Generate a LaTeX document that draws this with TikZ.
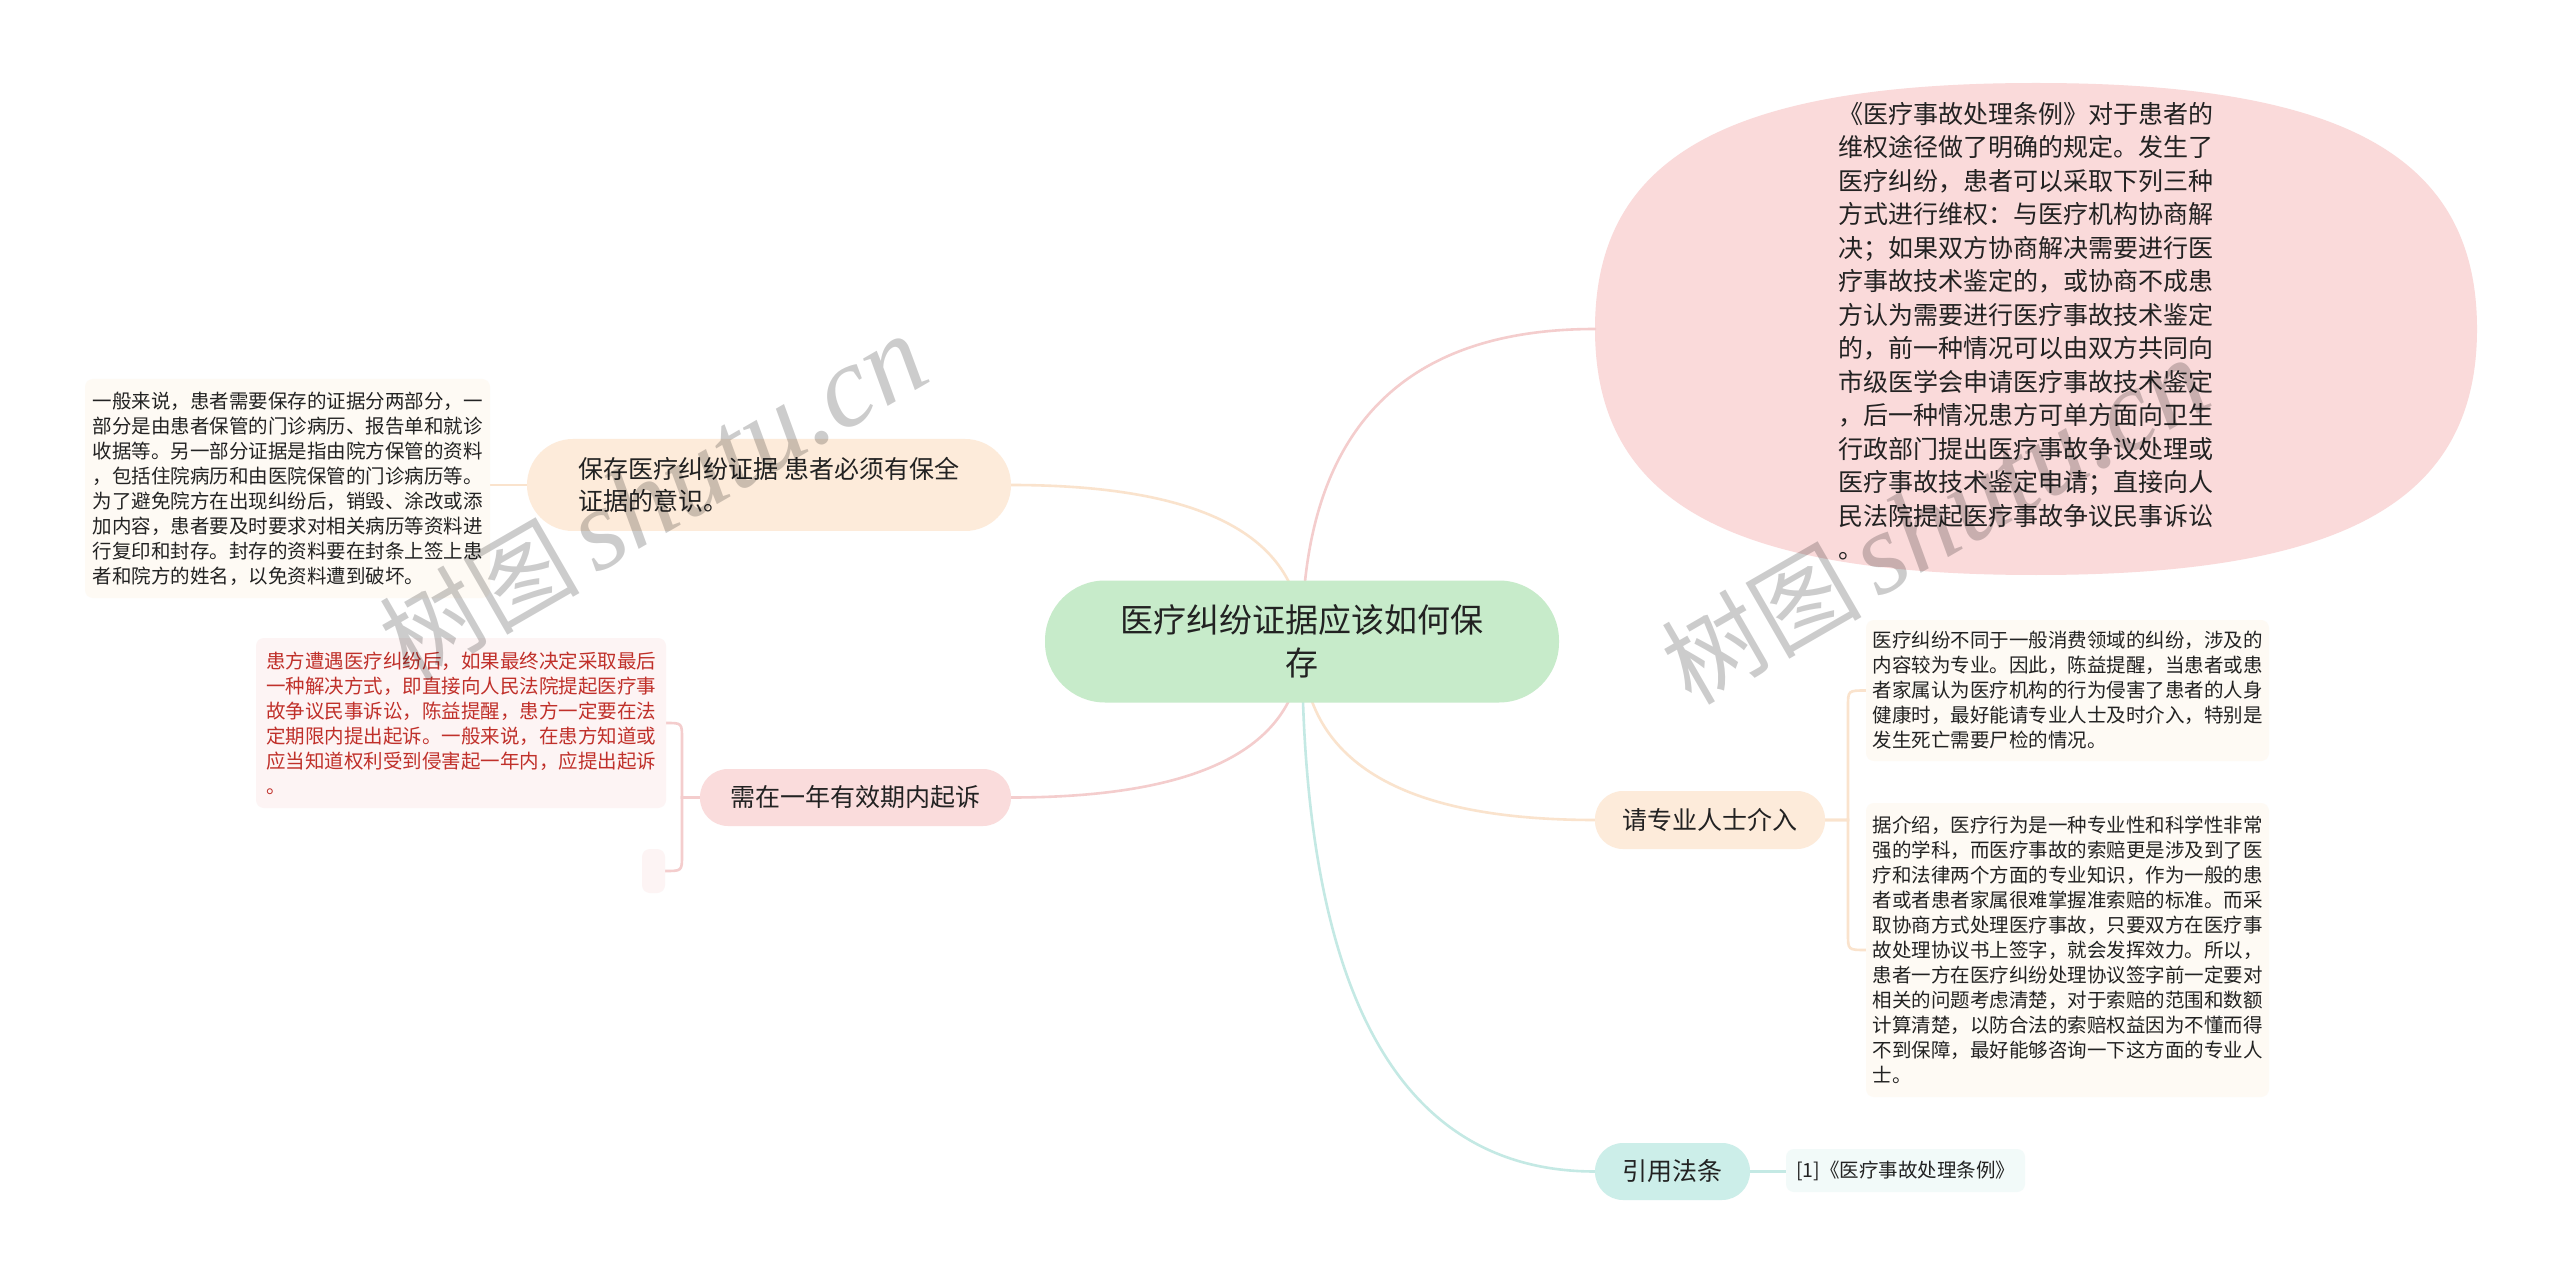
\documentclass[tikz,border=0pt]{standalone}
\usepackage{fontspec}
\setmainfont{Noto Sans CJK SC}
\newfontfamily\wmserif{Liberation Serif}
\usetikzlibrary{calc,backgrounds}
\definecolor{rootfill}{HTML}{C7EBCA}
\definecolor{lawfill}{HTML}{FADADA}
\definecolor{peachfill}{HTML}{FDEBDA}
\definecolor{pinkfill}{HTML}{FADCDC}
\definecolor{tealfill}{HTML}{CCEEE9}
\definecolor{creamleaf}{HTML}{FEFAF4}
\definecolor{pinkleaf}{HTML}{FDF4F4}
\definecolor{tealleaf}{HTML}{F2FAF9}
\definecolor{pinkline}{HTML}{F4CDCD}
\definecolor{peachline}{HTML}{FAE3CD}
\definecolor{tealline}{HTML}{C4E9E4}
\definecolor{redtext}{HTML}{C0302A}
\definecolor{darktext}{HTML}{222222}
\tikzset{
  base/.style={inner sep=0pt, outer sep=0pt, align=left, text=darktext},
  rootbox/.style={base, align=center, fill=rootfill, rounded corners=30pt,
    minimum width=257pt, minimum height=61pt, font=\fontsize{16.5}{21.5}\selectfont},
  branchbox/.style={base, rounded corners=14pt, minimum height=28.5pt,
    font=\fontsize{12.5}{16}\selectfont},
  leafbox/.style={base, rounded corners=4pt, font=\fontsize{9.75}{12.5}\selectfont},
  link/.style={line width=1.3pt, line cap=round},
  wmark/.style={text=black, opacity=0.2, rotate=30, inner sep=0pt},
}
\begin{document}
\begin{tikzpicture}[x=0.5pt, y=-0.5pt]
\useasboundingbox (0,0) rectangle (2560,1283);

% nodes
\node[rootbox] (root) at (1302,641.5) {医疗纠纷证据应该如何保\\存};
\node[base, minimum width=441pt, minimum height=246pt] (law) at (2036,329) {};
\node[base, font=\fontsize{12.5}{16.75}\selectfont] (lawtext) at (2026,331)
  {《医疗事故处理条例》对于患者的\\
   维权途径做了明确的规定。发生了\\
   医疗纠纷，患者可以采取下列三种\\
   方式进行维权：与医疗机构协商解\\
   决；如果双方协商解决需要进行医\\
   疗事故技术鉴定的，或协商不成患\\
   方认为需要进行医疗事故技术鉴定\\
   的，前一种情况可以由双方共同向\\
   市级医学会申请医疗事故技术鉴定\\
   ，后一种情况患方可单方面向卫生\\
   行政部门提出医疗事故争议处理或\\
   医疗事故技术鉴定申请；直接向人\\
   民法院提起医疗事故争议民事诉讼\\
   。};
\node[branchbox, fill=peachfill, rounded corners=23pt, minimum width=242pt, minimum height=46pt] (save) at (769,485)
  {保存医疗纠纷证据 患者必须有保全\\证据的意识。};
\node[branchbox, fill=pinkfill, minimum width=155.5pt] (sue) at (855.5,797.5) {需在一年有效期内起诉};
\node[branchbox, fill=peachfill, minimum width=115pt, minimum height=29pt] (pro) at (1710,820) {请专业人士介入};
\node[branchbox, fill=tealfill, minimum width=77.5pt] (ref) at (1672.5,1171.5) {引用法条};

\node[leafbox, fill=creamleaf, minimum width=202.5pt, minimum height=109.5pt] (leaf1) at (287.5,488.5)
  {一般来说，患者需要保存的证据分两部分，一\\
   部分是由患者保管的门诊病历、报告单和就诊\\
   收据等。另一部分证据是指由院方保管的资料\\
   ，包括住院病历和由医院保管的门诊病历等。\\
   为了避免院方在出现纠纷后，销毁、涂改或添\\
   加内容，患者要及时要求对相关病历等资料进\\
   行复印和封存。封存的资料要在封条上签上患\\
   者和院方的姓名，以免资料遭到破坏。};
\node[leafbox, fill=pinkleaf, text=redtext, minimum width=205pt, minimum height=85pt] (red) at (461,723)
  {患方遭遇医疗纠纷后，如果最终决定采取最后\\
   一种解决方式，即直接向人民法院提起医疗事\\
   故争议民事诉讼，陈益提醒，患方一定要在法\\
   定期限内提出起诉。一般来说，在患方知道或\\
   应当知道权利受到侵害起一年内，应提出起诉\\
   。};
\node[leafbox, fill=pinkleaf, minimum width=11.5pt, minimum height=22pt] (small) at (653.5,871) {};
\node[leafbox, fill=creamleaf, minimum width=201.5pt, minimum height=70.5pt] (r1) at (2067.5,690.5)
  {医疗纠纷不同于一般消费领域的纠纷，涉及的\\
   内容较为专业。因此，陈益提醒，当患者或患\\
   者家属认为医疗机构的行为侵害了患者的人身\\
   健康时，最好能请专业人士及时介入，特别是\\
   发生死亡需要尸检的情况。};
\node[leafbox, fill=creamleaf, minimum width=201.5pt, minimum height=147pt] (r2) at (2067.5,950)
  {据介绍，医疗行为是一种专业性和科学性非常\\
   强的学科，而医疗事故的索赔更是涉及到了医\\
   疗和法律两个方面的专业知识，作为一般的患\\
   者或者患者家属很难掌握准索赔的标准。而采\\
   取协商方式处理医疗事故，只要双方在医疗事\\
   故处理协议书上签字，就会发挥效力。所以，\\
   患者一方在医疗纠纷处理协议签字前一定要对\\
   相关的问题考虑清楚，对于索赔的范围和数额\\
   计算清楚，以防合法的索赔权益因为不懂而得\\
   不到保障，最好能够咨询一下这方面的专业人\\
   士。};
\node[leafbox, fill=tealleaf, minimum width=119.5pt, minimum height=21.5pt] (refleaf) at (1905.5,1170.5)
  {[1]《医疗事故处理条例》};

\begin{pgfonlayer}{background}
  \fill[white] (0,0) rectangle (2560,1283);
  % law node shape (rounded, between an ellipse and a rectangle)
  \fill[lawfill] (1595,329) .. controls (1595,156.8) and (1727.3,83) .. (2036,83)
    .. controls (2344.7,83) and (2477,156.8) .. (2477,329)
    .. controls (2477,501.2) and (2344.7,575) .. (2036,575)
    .. controls (1727.3,575) and (1595,501.2) .. (1595,329) -- cycle;
  % control corners for root links
  \coordinate (cLaw) at (root.center |- law.west);
  \coordinate (cSave) at (root.center |- save.east);
  \coordinate (cSue) at (root.center |- sue.east);
  \coordinate (cPro) at (root.center |- pro.west);
  \coordinate (cRef) at (root.center |- ref.west);
  \draw[link, draw=pinkline] (root.center) .. controls ($(root.center)!0.667!(cLaw)$) and ($(law.west)!0.667!(cLaw)$) .. (law.west);
  \draw[link, draw=peachline] (root.center) .. controls ($(root.center)!0.667!(cSave)$) and ($(save.east)!0.667!(cSave)$) .. (save.east);
  \draw[link, draw=pinkline] (root.center) .. controls ($(root.center)!0.667!(cSue)$) and ($(sue.east)!0.667!(cSue)$) .. (sue.east);
  \draw[link, draw=peachline] (root.center) .. controls ($(root.center)!0.667!(cPro)$) and ($(pro.west)!0.667!(cPro)$) .. (pro.west);
  \draw[link, draw=tealline] (root.center) .. controls ($(root.center)!0.667!(cRef)$) and ($(ref.west)!0.667!(cRef)$) .. (ref.west);
  % sub links
  \draw[link, draw=peachline] (save.west) -- (save.west -| leaf1.east);
  \draw[link, draw=pinkline] (sue.west) -- (682,797.5) -- (682,739) .. controls (682,723) .. (red.east);
  \draw[link, draw=pinkline] (sue.west) -- (682,797.5) -- (682,855) .. controls (682,871) .. (small.east);
  \draw[link, draw=peachline] (pro.east) -- (1848,820) -- (1848,706.5) .. controls (1848,690.5) .. (r1.west);
  \draw[link, draw=peachline] (pro.east) -- (1848,820) -- (1848,934) .. controls (1848,950) .. (r2.west);
  \draw[link, draw=tealline] (ref.east) -- (ref.east -| refleaf.west);
\end{pgfonlayer}

% watermarks
\node[wmark] (wm1) at (653,498) {\fontsize{50}{50}\selectfont 树图\hspace{8pt}{\wmserif\itshape\fontsize{58}{58}\selectfont shutu.cn}};
\node[wmark] (wm2) at (1935,522) {\fontsize{50}{50}\selectfont 树图\hspace{8pt}{\wmserif\itshape\fontsize{58}{58}\selectfont shutu.cn}};
\end{tikzpicture}
\end{document}
